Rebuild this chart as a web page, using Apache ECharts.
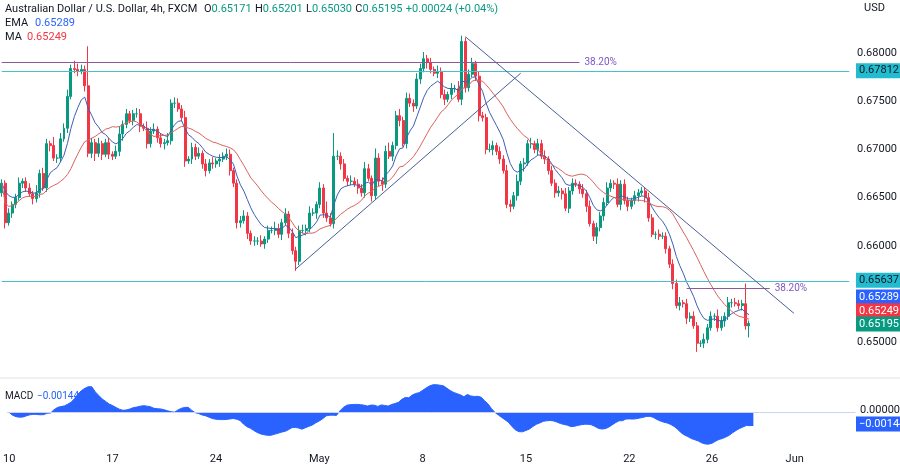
<!DOCTYPE html>
<html>
<head>
<meta charset="utf-8">
<script src="https://cdn.jsdelivr.net/npm/echarts@6/dist/echarts.min.js"></script>
<style>
  html, body { margin: 0; padding: 0; background: #fff; }
  #chart { width: 900px; height: 465px; }
</style>
</head>
<body>
<div id="chart"></div>
<script>
// 4h closes, Apr 10 .. May 30
const closes = [
  0.6665, 0.6624, 0.6634, 0.6643, 0.6650, 0.6665, 0.6667, 0.6660, 0.6654, 0.6649,
  0.6655, 0.6675, 0.6660, 0.6706, 0.6704, 0.6691, 0.6691, 0.6711, 0.6722, 0.6755,
  0.6784, 0.6783, 0.6781, 0.6783, 0.6766, 0.6696, 0.6707, 0.6696, 0.6706, 0.6695,
  0.6707, 0.6695, 0.6693, 0.6698, 0.6716, 0.6726, 0.6737, 0.6730, 0.6737, 0.6737,
  0.6724, 0.6722, 0.6706, 0.6719, 0.6721, 0.6712, 0.6706, 0.6707, 0.6709, 0.6748,
  0.6748, 0.6742, 0.6733, 0.6688, 0.6690, 0.6702, 0.6693, 0.6696, 0.6685, 0.6678,
  0.6686, 0.6685, 0.6688, 0.6690, 0.6693, 0.6695, 0.6678, 0.6665, 0.6624, 0.6626,
  0.6631, 0.6613, 0.6605, 0.6605, 0.6605, 0.6602, 0.6607, 0.6616, 0.6616, 0.6618,
  0.6612, 0.6624, 0.6633, 0.6613, 0.6595, 0.6584, 0.6616, 0.6616, 0.6618, 0.6634,
  0.6634, 0.6643, 0.6660, 0.6634, 0.6629, 0.6623, 0.6693, 0.6693, 0.6685, 0.6670,
  0.6667, 0.6667, 0.6664, 0.6660, 0.6655, 0.6680, 0.6670, 0.6652, 0.6691, 0.6667,
  0.6664, 0.6698, 0.6693, 0.6704, 0.6735, 0.6730, 0.6706, 0.6753, 0.6748, 0.6745,
  0.6773, 0.6784, 0.6794, 0.6790, 0.6783, 0.6779, 0.6781, 0.6757, 0.6752, 0.6757,
  0.6763, 0.6763, 0.6752, 0.6812, 0.6764, 0.6778, 0.6789, 0.6776, 0.6735, 0.6733,
  0.6700, 0.6700, 0.6704, 0.6698, 0.6690, 0.6678, 0.6643, 0.6641, 0.6652, 0.6667,
  0.6685, 0.6686, 0.6706, 0.6706, 0.6700, 0.6706, 0.6693, 0.6690, 0.6678, 0.6665,
  0.6655, 0.6657, 0.6654, 0.6639, 0.6657, 0.6665, 0.6664, 0.6659, 0.6654, 0.6641,
  0.6623, 0.6610, 0.6619, 0.6631, 0.6645, 0.6660, 0.6665, 0.6664, 0.6643, 0.6664,
  0.6647, 0.6641, 0.6647, 0.6652, 0.6655, 0.6657, 0.6650, 0.6629, 0.6612, 0.6612,
  0.6610, 0.6610, 0.6597, 0.6581, 0.6561, 0.6538, 0.6541, 0.6540, 0.6525, 0.6527,
  0.6517, 0.6499, 0.6499, 0.6503, 0.6515, 0.6527, 0.6527, 0.6515, 0.6522, 0.6527,
  0.6541, 0.6541, 0.6540, 0.6538, 0.6540, 0.6517, 0.65195
];
const firstOpen = 0.6655;
// wick lengths in pips
const upperWick = [
  4,3,5,3,4,6,3,4,5,3,8,4,6,5,3,9,4,6,5,7,
  4,8,6,5,4,41,5,4,6,3,4,5,3,6,8,4,5,3,4,6,
  5,3,7,4,6,3,5,4,8,4,6,5,4,7,3,5,4,6,3,5,
  4,6,3,5,4,6,5,3,4,5,6,4,3,5,4,6,3,5,4,7,
  5,4,6,3,5,4,5,6,4,7,5,3,6,4,12,5,24,6,4,5,
  3,6,4,5,4,7,5,3,10,5,4,6,9,4,5,7,4,6,5,4,
  6,5,7,4,5,3,6,4,5,3,6,4,8,6,4,5,6,3,5,4,
  4,6,5,3,5,4,6,5,4,7,3,5,4,6,3,5,4,6,3,5,
  4,5,3,6,4,5,4,3,5,4,6,3,5,4,5,6,4,3,6,4,
  5,4,3,5,4,4,3,5,4,3,5,4,4,3,5,4,6,3,5,4,
  5,4,3,6,4,5,3,7,5,4,6,4,5,4,4,21,3
];
const lowerWick = [
  4,6,3,5,4,3,5,4,3,6,4,5,3,4,6,3,5,4,3,5,
  3,4,5,3,6,4,5,8,4,6,3,5,4,3,5,7,4,3,5,4,
  6,3,5,4,3,5,4,6,3,4,5,3,4,6,3,5,4,3,5,6,
  3,5,4,6,3,4,5,4,6,5,3,6,4,5,4,3,5,4,3,5,
  4,6,3,5,4,10,4,3,5,4,3,6,4,5,4,3,5,4,6,3,
  5,4,3,6,4,5,3,6,4,5,7,4,3,5,4,6,3,5,4,6,
  3,5,4,6,4,3,5,4,6,3,5,4,3,6,5,4,3,5,6,4,
  5,3,6,4,5,3,4,6,3,5,4,8,3,5,4,6,3,5,4,3,
  5,4,6,3,5,4,3,5,4,6,3,5,8,4,5,3,4,5,3,6,
  4,5,3,4,6,3,5,4,3,5,4,3,5,4,6,3,5,4,6,4,
  3,9,4,5,4,3,5,4,3,6,4,5,3,4,5,4,12
];
const totalSlots = 246;
const tickIdx = [0, 30, 60, 90, 120, 150, 180, 204, 228];
const tickText = ['10', '17', '24', 'May', '8', '15', '22', '26', 'Jun'];

const resistanceLevels = [0.67812, 0.65637];
const fibTop = { price: 0.6790, from: 0, to: 167 };
const fibLow = { price: 0.6556, from: 198, to: 222 };
const upTrend = [[85, 0.6576], [150, 0.6779]];
const downTrend = [[134, 0.6817], [229, 0.6530]];
const emaLast = 0.65289;
const maLast = 0.65249;
const closeLast = 0.65195;
const macdLast = -0.00144;

const UP = '#089981', DOWN = '#f23645';

const candles = closes.map((c, i) => {
  const o = i === 0 ? firstOpen : closes[i - 1];
  return [o, c, Math.min(o, c) - lowerWick[i] / 10000, Math.max(o, c) + upperWick[i] / 10000];
});

function ema(src, n) {
  const k = 2 / (n + 1);
  let prev = src[0];
  return src.map((v, i) => (prev = i === 0 ? v : v * k + prev * (1 - k)));
}
function sma(src, n) {
  return src.map((v, i) => {
    const s = src.slice(Math.max(0, i - n + 1), i + 1);
    return s.reduce((a, b) => a + b, 0) / s.length;
  });
}
const emaLine = ema(closes, 9);
const maLine = sma(closes, 20);
const e12 = ema(closes, 12), e26 = ema(closes, 26);
const macd = closes.map((c, i) => e12[i] - e26[i]);

const cats = Array.from({ length: totalSlots }, (_, i) => i);
const tickMap = {};
tickIdx.forEach((t, k) => (tickMap[t] = tickText[k]));

const CYAN = '#45c0cc';
const seg = (a, b, color) => [
  { coord: a, lineStyle: { color: color, width: 1, type: 'solid' } },
  { coord: b }
];
const fibLabel = { show: true, position: 'end', formatter: '38.20%', color: '#7e57c2', fontSize: 10, distance: 5 };

const chart = echarts.init(document.getElementById('chart'));
chart.setOption({
  animation: false,
  backgroundColor: '#fff',
  textStyle: { fontFamily: 'Roboto' },
  grid: [
    { left: 0, right: 45, top: 0, height: 376 },
    { left: 0, right: 45, top: 380, height: 66 }
  ],
  xAxis: [
    {
      type: 'category', data: cats, gridIndex: 0, boundaryGap: true,
      axisLine: { show: false }, axisTick: { show: false }, axisLabel: { show: false }, splitLine: { show: false }
    },
    {
      type: 'category', data: cats, gridIndex: 1, boundaryGap: true,
      axisLine: { show: true, lineStyle: { color: '#d1d4dc' } }, axisTick: { show: false },
      axisLabel: {
        interval: (i) => tickMap[i] !== undefined,
        formatter: (v) => tickMap[v] || '',
        color: '#131722', fontSize: 11, margin: 9
      },
      splitLine: { show: false }
    }
  ],
  yAxis: [
    {
      type: 'value', gridIndex: 0, position: 'right',
      min: 0.6465, max: 0.6855, interval: 0.0005,
      axisLine: { show: false }, axisTick: { show: false }, splitLine: { show: false },
      axisLabel: {
        color: '#131722', fontSize: 11, margin: 6,
        formatter: (v) => (v < 0.681 && Math.abs(v - 0.655) > 1e-6 &&
          Math.abs(v * 200 - Math.round(v * 200)) < 1e-6) ? v.toFixed(5) : ''
      }
    },
    {
      type: 'value', gridIndex: 1, position: 'right', min: -0.0039, max: 0.0039,
      axisLine: { show: false }, axisTick: { show: false }, splitLine: { show: false },
      axisLabel: { show: false }
    }
  ],
  series: [
    {
      type: 'candlestick', xAxisIndex: 0, yAxisIndex: 0, data: candles, barWidth: '72%',
      itemStyle: { color: UP, color0: DOWN, borderColor: UP, borderColor0: DOWN, borderWidth: 1 }
    },
    {
      type: 'line', name: 'EMA', xAxisIndex: 0, yAxisIndex: 0, data: emaLine, showSymbol: false,
      lineStyle: { color: '#3f5fb5', width: 1 }, z: 3
    },
    {
      type: 'line', name: 'MA', xAxisIndex: 0, yAxisIndex: 0, data: maLine, showSymbol: false,
      lineStyle: { color: '#d9625f', width: 1 }, z: 3,
      markLine: {
        symbol: 'none', silent: true, animation: false, precision: 5,
        label: { show: false },
        data: [
          ...resistanceLevels.map(v => seg([0, v], [totalSlots - 1, v], CYAN)),
          [
            { coord: [fibTop.from, fibTop.price], lineStyle: { color: '#8c5a96', width: 1, type: 'solid' }, label: fibLabel },
            { coord: [fibTop.to, fibTop.price] }
          ],
          [
            { coord: [fibLow.from, fibLow.price], lineStyle: { color: '#8c5a96', width: 1, type: 'solid' }, label: fibLabel },
            { coord: [fibLow.to, fibLow.price] }
          ],
          seg(upTrend[0], upTrend[1], '#4a5f9a'),
          seg(downTrend[0], downTrend[1], '#4a5f9a')
        ]
      }
    },
    {
      type: 'line', name: 'MACD', xAxisIndex: 1, yAxisIndex: 1, data: macd, showSymbol: false,
      lineStyle: { color: '#2962ff', width: 1 }, areaStyle: { color: '#2962ff', opacity: 1 },
      markLine: {
        symbol: 'none', silent: true, animation: false, precision: 5, label: { show: false },
        data: [seg([0, 0], [totalSlots - 1, 0], '#c8d3f5')]
      }
    }
  ]
});

// price tags on the right edge, placed through the axes' own scale
const txt = (s, fill, size) => ({ text: s, fill: fill, fontSize: size || 11, fontFamily: 'Roboto' });
const tags = [];
const addTag = (axis, value, text, bg, fg, dy) => {
  const y = chart.convertToPixel({ yAxisIndex: axis }, value) + (dy || 0);
  tags.push({
    type: 'text', zlevel: 1, x: 856, y: y - 8,
    style: Object.assign(txt(text, fg), { backgroundColor: bg, padding: [2, 3] })
  });
};
addTag(0, resistanceLevels[0], resistanceLevels[0].toFixed(5), '#22bcd0', '#131722');
addTag(0, resistanceLevels[1], resistanceLevels[1].toFixed(5), '#22bcd0', '#131722');
addTag(0, emaLast, emaLast.toFixed(5), '#2962ff', '#fff', -17);
addTag(0, maLast, maLast.toFixed(5), '#f23645', '#fff', -7);
addTag(0, closeLast, closeLast.toFixed(5), '#089981', '#fff', 1);
tags.push({ type: 'text', zlevel: 1, x: 860, y: chart.convertToPixel({ yAxisIndex: 1 }, 0) - 8, style: txt('0.00000', '#131722') });
addTag(1, macdLast, '\u22120.00144', '#2962ff', '#fff', 0);

chart.setOption({
  graphic: [
    { type: 'line', zlevel: 1, shape: { x1: 0, y1: 378, x2: 900, y2: 378 }, style: { stroke: '#e0e3eb', lineWidth: 1 } },
    { type: 'text', zlevel: 1, x: 864, y: 3, style: txt('USD', '#131722') },
    {
      type: 'text', zlevel: 1, x: 5, y: 3,
      style: {
        text: '{n|Australian Dollar / U.S. Dollar, 4h, FXCM}  {k|O}{v|0.65171} {k|H}{v|0.65201} {k|L}{v|0.65030} {k|C}{v|0.65195} {v|+0.00024 (+0.04%)}',
        rich: {
          n: { fill: '#131722', fontSize: 11, fontFamily: 'Roboto' },
          k: { fill: '#131722', fontSize: 11, fontFamily: 'Roboto' },
          v: { fill: '#089981', fontSize: 11, fontFamily: 'Roboto' }
        }
      }
    },
    { type: 'text', zlevel: 1, x: 5, y: 18, style: txt('EMA', '#131722') },
    { type: 'text', zlevel: 1, x: 35, y: 18, style: txt('0.65289', '#2962ff') },
    { type: 'text', zlevel: 1, x: 5, y: 32, style: txt('MA', '#131722') },
    { type: 'text', zlevel: 1, x: 27, y: 32, style: txt('0.65249', '#f23645') },
    { type: 'text', zlevel: 1, x: 5, y: 391, style: txt('MACD', '#131722', 10) },
    { type: 'text', zlevel: 1, x: 37, y: 391, style: txt('\u22120.00144', '#2962ff', 10) },
    ...tags
  ]
});
window.addEventListener('resize', () => chart.resize());
</script>
</body>
</html>
